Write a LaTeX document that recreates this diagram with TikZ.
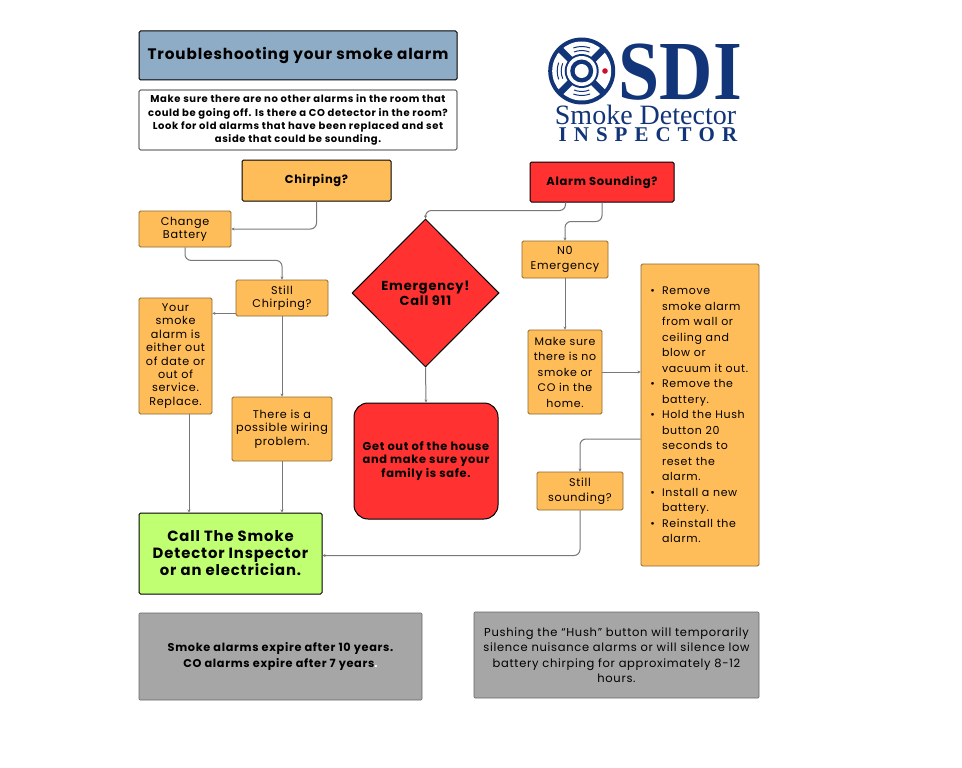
\documentclass[tikz,border=0pt]{standalone}
\usepackage{fontspec}
\setmainfont{Poppins}[LetterSpace=6]
\newfontfamily\logofont{Liberation Serif}
\usepackage{tikz}
\usetikzlibrary{arrows.meta,positioning,shapes.geometric,calc}
\usepackage{xcolor}
\definecolor{alarmorange}{RGB}{255,189,89}
\definecolor{alarmred}{RGB}{255,49,49}
\definecolor{callgreen}{RGB}{193,255,114}
\definecolor{titleblue}{RGB}{142,172,197}
\definecolor{notegrey}{RGB}{166,166,166}
\definecolor{sdinavy}{RGB}{18,52,120}
\definecolor{sdired}{RGB}{200,16,46}
\definecolor{linkgrey}{RGB}{120,120,120}
\tikzset{
  box/.style={draw=#1!55!black,line width=0.8pt,rounded corners=1.5pt,align=center,inner sep=0pt,font=\fontsize{11.2}{13.4}\selectfont},
  box/.default=alarmorange,
  orangebox/.style={box=alarmorange,fill=alarmorange},
  headbox/.style={draw=black,line width=1pt,rounded corners=1.5pt,align=center,inner sep=0pt,font=\fontsize{11.5}{13}\selectfont\bfseries},
  notebox/.style={draw=black!60,line width=0.6pt,fill=notegrey,rounded corners=1pt,align=center,inner sep=0pt},
  link/.style={draw=linkgrey,line width=1pt,rounded corners=6pt,-{Stealth[length=3pt,width=3pt]}},
}
\begin{document}
\begin{tikzpicture}[x=1pt,y=-1pt]
    \useasboundingbox (0,0) rectangle (962,768);
    % top left headers
    \node[headbox,fill=titleblue,minimum width=318,minimum height=49,font=\fontsize{15.2}{16}\selectfont\bfseries] (title) at (298,55.5) {Troubleshooting your smoke alarm};
    \node[headbox,fill=white,line width=0.6pt,minimum width=318,minimum height=60,font=\fontsize{10}{13.2}\selectfont\bfseries] (intro) at (298,120) {Make sure there are no other alarms in the room that\\could be going off. Is there a CO detector in the room?\\Look for old alarms that have been replaced and set\\aside that could be sounding.};
    % logo
    \fill[sdinavy] (581.7,71) circle (33.5);
    \fill[white] (581.7,71) circle (29.5);
    \foreach \a in {45,135,225,315}
      \draw[sdinavy,line width=6.5pt] (581.7,71) -- ++(\a:31);
    \fill[sdinavy] (581.7,71) circle (17);
    \fill[white] (581.7,71) circle (15);
    \fill[sdinavy] (581.7,71) circle (11.5);
    \fill[white] (581.7,71) circle (7);
    \foreach \a in {90,180,270} {
      \draw[sdinavy,line width=1pt] (581.7,71) ++(\a-22:20.5) arc[start angle=\a-22,end angle=\a+22,radius=20.5];
      \draw[sdinavy,line width=1pt] (581.7,71) ++(\a-20:24.5) arc[start angle=\a-20,end angle=\a+20,radius=24.5];
    }
    \fill[sdired] (605,71) circle (2.8);
    \node[inner sep=0pt,text=sdinavy,font=\logofont\fontsize{84}{84}\selectfont\bfseries] (sdi) at (680.5,72) {\scalebox{0.88}[1]{SDI}};
    \node[inner sep=0pt,text=sdinavy,font=\logofont\fontsize{28}{28}\selectfont] (smoke) at (645.5,115) {Smoke Detector};
    \node[inner sep=0pt,text=sdinavy,font=\logofont\fontsize{21}{21}\selectfont\bfseries] (inspector) at (648,135) {I\,\,N\,\,S\,\,P\,\,E\,\,C\,\,T\,\,O\,\,R};
    % chirping branch
    \node[headbox,fill=alarmorange,minimum width=149,minimum height=41] (chirping) at (316.5,180.5) {Chirping?};
    \node[orangebox,minimum width=92,minimum height=36] (battery) at (185,229) {Change\\Battery};
    \node[orangebox,minimum width=92,minimum height=36] (still) at (282,298) {Still\\Chirping?};
    \node[orangebox,minimum width=73,minimum height=116] (replace) at (175.5,356) {Your\\smoke\\alarm is\\either out\\of date or\\out of\\service.\\Replace.};
    \node[orangebox,minimum width=100,minimum height=64] (wiring) at (282,429) {There is a\\possible wiring\\problem.};
    \node[headbox,fill=callgreen,minimum width=183,minimum height=81,font=\fontsize{14.8}{17}\selectfont\bfseries] (call) at (230.5,553.5) {Call The Smoke\\Detector Inspector\\or an electrician.};
    % sounding branch
    \node[headbox,fill=alarmred,minimum width=144,minimum height=40] (sounding) at (602,182) {Alarm Sounding?};
    \node[diamond,draw=black,line width=1pt,fill=alarmred,minimum width=147,minimum height=148,inner sep=0pt,align=center,font=\fontsize{13}{15}\selectfont\bfseries] (emergency) at (425.5,293) {Emergency!\\Call 911};
    \node[headbox,fill=alarmred,rounded corners=14pt,minimum width=144,minimum height=116,font=\fontsize{11.4}{13.4}\selectfont\bfseries] (getout) at (426,461) {Get out of the house\\and make sure your\\family is safe.};
    \node[orangebox,minimum width=86,minimum height=37,font=\fontsize{11.2}{15.5}\selectfont] (noemerg) at (565,259.5) {N0\\Emergency};
    \node[orangebox,minimum width=74,minimum height=84,font=\fontsize{11}{15.5}\selectfont] (makesure) at (565,372) {Make sure\\there is no\\smoke or\\CO in the\\home.};
    \node[orangebox,minimum width=118,minimum height=302,text width=110,align=left,font=\fontsize{11}{15.5}\selectfont] (steps) at (700,415) {%
      \begin{list}{\textbullet}{\setlength\leftmargin{17pt}\setlength\labelwidth{6pt}\setlength\labelsep{7pt}\setlength\itemsep{0pt}\setlength\parsep{0pt}\setlength\topsep{0pt}}
      \item Remove\\smoke alarm\\from wall or\\ceiling and\\blow or\\vacuum it out.
      \item Remove the\\battery.
      \item Hold the Hush\\button 20\\seconds to\\reset the\\alarm.
      \item Install a new\\battery.
      \item Reinstall the\\alarm.
      \end{list}\par\vspace*{-7.5pt}\mbox{}};
    \node[orangebox,minimum width=86,minimum height=38,font=\fontsize{11.2}{15.5}\selectfont] (stillsound) at (580,491) {Still\\sounding?};
    % notes
    \node[notebox,minimum width=283,minimum height=87,font=\fontsize{11.3}{16}\selectfont\bfseries] (expire) at (280.5,656.5) {Smoke alarms expire after 10 years.\\CO alarms expire after 7 years{\color{white}.}};
    \node[notebox,minimum width=285,minimum height=86,font=\fontsize{11.5}{15.5}\selectfont] (hush) at (616.5,655) {Pushing the “Hush” button will temporarily\\silence nuisance alarms or will silence low\\battery chirping for approximately 8-12\\hours.};
    % connectors
    \draw[link] (chirping.south) |- (battery.east);
    \draw[link] (battery.south) -- ++(0,13) -| (still.north);
    \draw[link] ([yshift=3pt]still.south west) -- ([yshift=3pt]still.south west -| replace.east);
    \draw[link] (still.south) -- (wiring.north);
    \draw[link] (wiring.south) -- (wiring.south |- call.north);
    \draw[link] ([xshift=13.5pt]replace.south) -- ([xshift=13.5pt]replace.south |- call.north);
    \draw[link] ([xshift=-36.5pt]sounding.south) -- ++(0,8) -| (emergency.north);
    \draw[link] (sounding.south) -- ++(0,19) -| (noemerg.north);
    \draw[link] (emergency.south) -- (getout.north);
    \draw[link] (noemerg.south) -- (makesure.north);
    \draw[link] (makesure.east) -- (makesure.east -| steps.west);
    \draw[link] (steps.west |- 0,439) -| (stillsound.north);
    \draw[link] (stillsound.south) |- ([yshift=-2pt]call.east);
\end{tikzpicture}
\end{document}
